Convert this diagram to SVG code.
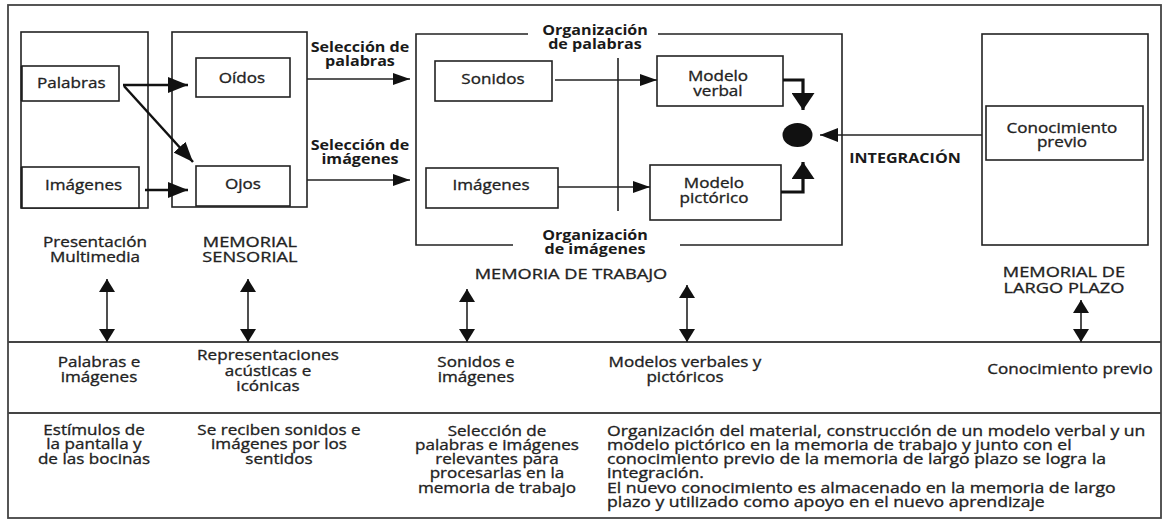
<svg xmlns="http://www.w3.org/2000/svg" width="1168" height="520" viewBox="0 0 1168 520">
<style>
  text { font-family: "Open Sans", "Noto Sans", "Liberation Sans", sans-serif; font-size: 14px; fill: #222; stroke: #222; stroke-width: 0.3; transform-box: fill-box; transform-origin: center; transform: scaleX(1.22); }
  .l { transform-origin: left center; }
  .p { transform: scaleX(1.26); }
  .b { font-weight: bold; stroke: none; fill: #1a1a1a; transform: scaleX(1.15); }
  .k { transform: scaleX(1.3); }
  .c { text-anchor: middle; }
  .box { fill: #fff; stroke: #222; stroke-width: 1.6; }
  .thin { fill: none; stroke: #222; stroke-width: 1.6; }
  .med { fill: none; stroke: #111; stroke-width: 2.5; }
  .thick { fill: none; stroke: #111; stroke-width: 3.2; }
</style>
<defs>
  <marker id="ah" markerUnits="userSpaceOnUse" markerWidth="18" markerHeight="12" refX="17" refY="6" orient="auto">
    <path d="M0,0 L17,6 L0,12 z" fill="#111"/>
  </marker>
  <marker id="ahi" markerUnits="userSpaceOnUse" markerWidth="18" markerHeight="14" refX="18" refY="7" orient="auto">
    <path d="M0,0 L18,7 L0,14 z" fill="#111"/>
  </marker>
  <marker id="ahm" markerUnits="userSpaceOnUse" markerWidth="20" markerHeight="16" refX="20" refY="8" orient="auto">
    <path d="M0,0 L20,8 L0,16 z" fill="#111"/>
  </marker>
  <marker id="ahb" markerUnits="userSpaceOnUse" markerWidth="17" markerHeight="23" refX="17" refY="11.5" orient="auto">
    <path d="M0,0 L17,11.5 L0,23 z" fill="#111"/>
  </marker>
  <marker id="ahd" markerUnits="userSpaceOnUse" markerWidth="13" markerHeight="16" refX="13" refY="8" orient="auto-start-reverse">
    <path d="M0,0 L13,8 L0,16 z" fill="#111"/>
  </marker>
</defs>
<rect width="1168" height="520" fill="#fff"/>

<g id="frame">
  <rect x="8" y="5" width="1153" height="513" fill="none" stroke="#444" stroke-width="1.8"/>
  <line x1="8" y1="342" x2="1161" y2="342" stroke="#444" stroke-width="1.8"/>
  <line x1="8" y1="413" x2="1161" y2="413" stroke="#444" stroke-width="1.8"/>
</g>

<g id="presentacion">
  <rect class="box" x="21" y="32" width="127" height="176"/>
  <line x1="22" y1="66" x2="22" y2="101" stroke="#111" stroke-width="2.5"/>
  <line x1="22" y1="167" x2="22" y2="208" stroke="#111" stroke-width="2.5"/>
  <text class="c" x="95" y="247">Presentación</text>
  <text class="c" x="95" y="262">Multimedia</text>
</g>
<g id="palabras">
  <rect class="box" x="22" y="66" width="97" height="35"/>
  <text class="l" x="37" y="88">Palabras</text>
</g>
<g id="imagenes1">
  <rect class="box" x="22" y="167" width="117" height="41"/>
  <text class="l" x="45" y="190">Imágenes</text>
</g>

<g id="sensorial">
  <rect class="box" x="172" y="32" width="135" height="175"/>
  <text class="c k" x="250" y="247">MEMORIAL</text>
  <text class="c k" x="250" y="262">SENSORIAL</text>
</g>
<g id="oidos">
  <rect class="box" x="196" y="58" width="94" height="39"/>
  <text class="c" x="242" y="83">Oídos</text>
</g>
<g id="ojos">
  <rect class="box" x="196" y="166" width="94" height="40"/>
  <text class="c" x="243" y="189">Ojos</text>
</g>

<g id="trabajo">
  <path class="thin" d="M528,34 H416 V245 H513 M680,245 H842 V34 H658"/>
  <text class="c b" x="595" y="35">Organización</text>
  <text class="c b" x="595" y="49">de palabras</text>
  <text class="c b" x="595" y="240">Organización</text>
  <text class="c b" x="595" y="254">de imágenes</text>
  <text class="c k" x="571" y="279">MEMORIA DE TRABAJO</text>
  <line x1="618" y1="58" x2="618" y2="211" stroke="#222" stroke-width="1.6"/>
</g>
<g id="sonidos">
  <rect class="box" x="435" y="61" width="117" height="40"/>
  <text class="c" x="493" y="84">Sonidos</text>
</g>
<g id="imagenes2">
  <rect class="box" x="426" y="168" width="132" height="40"/>
  <text class="c" x="491" y="190">Imágenes</text>
</g>
<g id="modelo-verbal">
  <rect class="box" x="657" y="56" width="126" height="50"/>
  <text class="c" x="718" y="81">Modelo</text>
  <text class="c" x="718" y="96">verbal</text>
</g>
<g id="modelo-pictorico">
  <rect class="box" x="650" y="165" width="131" height="55"/>
  <text class="c" x="714" y="188">Modelo</text>
  <text class="c" x="714" y="203">pictórico</text>
</g>
<g id="integracion">
  <ellipse cx="797.5" cy="135" rx="15" ry="12" fill="#111"/>
  <text class="c b" x="905" y="163">INTEGRACIÓN</text>
</g>

<g id="largo-plazo">
  <rect class="box" x="982" y="34" width="166" height="211"/>
  <text class="c k" x="1064" y="277">MEMORIAL DE</text>
  <text class="c k" x="1064" y="293">LARGO PLAZO</text>
</g>
<g id="conocimiento">
  <rect class="box" x="986" y="106" width="157" height="54"/>
  <text class="c" x="1062" y="133">Conocimiento</text>
  <text class="c" x="1062" y="147">previo</text>
</g>

<g id="labels">
  <text class="c b" x="360" y="52">Selección de</text>
  <text class="c b" x="360" y="66">palabras</text>
  <text class="c b" x="360" y="150">Selección de</text>
  <text class="c b" x="360" y="164">imágenes</text>
</g>

<g id="row2">
  <text class="c" x="99" y="367">Palabras e</text>
  <text class="c" x="99" y="382">imágenes</text>
  <text class="c" x="268" y="360">Representaciones</text>
  <text class="c" x="268" y="376">acústicas e</text>
  <text class="c" x="268" y="391">icónicas</text>
  <text class="c" x="476" y="367">Sonidos e</text>
  <text class="c" x="476" y="382">imágenes</text>
  <text class="c" x="685" y="367">Modelos verbales y</text>
  <text class="c" x="685" y="382">pictóricos</text>
  <text class="c" x="1070" y="374">Conocimiento previo</text>
</g>

<g id="row3">
  <text class="c" x="94" y="435">Estímulos de</text>
  <text class="c" x="94" y="449">la pantalla y</text>
  <text class="c" x="94" y="464">de las bocinas</text>
  <text class="c" x="279" y="435">Se reciben sonidos e</text>
  <text class="c" x="279" y="449">imágenes por los</text>
  <text class="c" x="279" y="464">sentidos</text>
  <text class="c" x="497" y="436">Selección de</text>
  <text class="c" x="497" y="450">palabras e imágenes</text>
  <text class="c" x="497" y="464">relevantes para</text>
  <text class="c" x="497" y="478">procesarlas en la</text>
  <text class="c" x="497" y="493">memoria de trabajo</text>
  <text class="l p" x="607" y="436">Organización del material, construcción de un modelo verbal y un</text>
  <text class="l p" x="607" y="450">modelo pictórico en la memoria de trabajo y junto con el</text>
  <text class="l p" x="607" y="464">conocimiento previo de la memoria de largo plazo se logra la</text>
  <text class="l p" x="607" y="478">integración.</text>
  <text class="l p" x="607" y="493">El nuevo conocimiento es almacenado en la memoria de largo</text>
  <text class="l p" x="607" y="507">plazo y utilizado como apoyo en el nuevo aprendizaje</text>
</g>

<g id="connectors">
  <line class="med" x1="123" y1="85" x2="188" y2="85" marker-end="url(#ahm)"/>
  <line class="med" x1="124" y1="86" x2="193" y2="162" marker-end="url(#ahm)"/>
  <line class="med" x1="145" y1="190" x2="188" y2="190" marker-end="url(#ahm)"/>
  <line class="thin" x1="307" y1="79" x2="410" y2="79" marker-end="url(#ah)"/>
  <line class="thin" x1="307" y1="180" x2="410" y2="180" marker-end="url(#ah)"/>
  <line class="thin" x1="555" y1="80" x2="657" y2="80" marker-end="url(#ah)"/>
  <line class="thin" x1="558" y1="187" x2="650" y2="187" marker-end="url(#ah)"/>
  <path class="thick" d="M783,80 H803 V110" marker-end="url(#ahb)"/>
  <path class="thick" d="M781,192 H803 V162" marker-end="url(#ahb)"/>
  <line class="thin" x1="982" y1="135" x2="820" y2="135" marker-end="url(#ahi)"/>
  <line class="thin" x1="107" y1="279" x2="107" y2="342" marker-start="url(#ahd)" marker-end="url(#ahd)"/>
  <line class="thin" x1="248" y1="279" x2="248" y2="342" marker-start="url(#ahd)" marker-end="url(#ahd)"/>
  <line class="thin" x1="467" y1="289" x2="467" y2="342" marker-start="url(#ahd)" marker-end="url(#ahd)"/>
  <line class="thin" x1="687" y1="285" x2="687" y2="342" marker-start="url(#ahd)" marker-end="url(#ahd)"/>
  <line class="thin" x1="1081" y1="300" x2="1081" y2="342" marker-start="url(#ahd)" marker-end="url(#ahd)"/>
</g>
</svg>
